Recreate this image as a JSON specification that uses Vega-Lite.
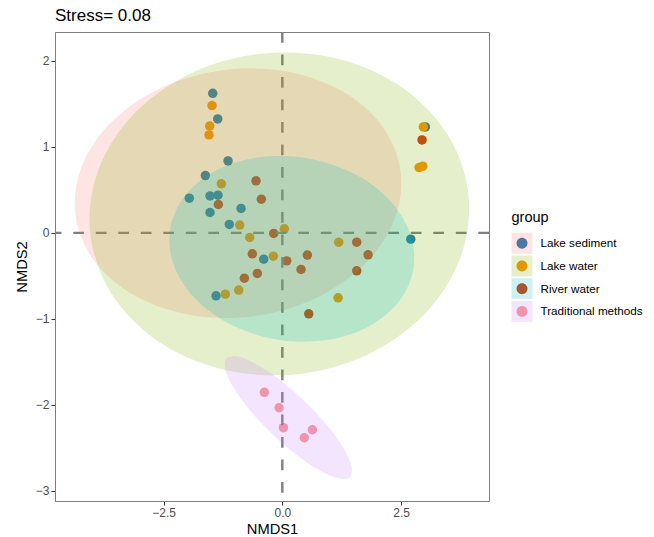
{
  "$schema": "https://vega.github.io/schema/vega-lite/v6.json",
  "width": 434,
  "height": 469,
  "autosize": {"type": "none"},
  "padding": {"left": 55, "top": 32, "right": 165, "bottom": 36},
  "background": "white",
  "title": {"text": "Stress= 0.08", "anchor": "start", "frame": "group", "font": "Liberation Sans", "fontSize": 17, "fontWeight": "normal", "color": "black", "offset": 6},
  "config": {
    "font": "Liberation Sans",
    "view": {"stroke": "#7F7F7F", "strokeWidth": 1},
    "axis": {"grid": false, "domainColor": "#7F7F7F", "domainWidth": 1, "tickColor": "#333333", "tickSize": 4, "labelFont": "Liberation Sans", "labelFontSize": 12, "labelColor": "#4D4D4D", "labelPadding": 2, "titleFont": "Liberation Sans", "titleFontSize": 14.7, "titleFontWeight": "normal", "titleColor": "black"},
    "legend": {"labelFont": "Liberation Sans", "titleFont": "Liberation Sans"}
  },
  "datasets": {
    "points": [
      {"group": "Lake sediment", "NMDS1": -1.465, "NMDS2": 1.624},
      {"group": "Lake sediment", "NMDS1": -1.36, "NMDS2": 1.326},
      {"group": "Lake sediment", "NMDS1": -1.143, "NMDS2": 0.837},
      {"group": "Lake sediment", "NMDS1": -1.62, "NMDS2": 0.667},
      {"group": "Lake sediment", "NMDS1": -1.958, "NMDS2": 0.403},
      {"group": "Lake sediment", "NMDS1": -1.522, "NMDS2": 0.43},
      {"group": "Lake sediment", "NMDS1": -1.354, "NMDS2": 0.438},
      {"group": "Lake sediment", "NMDS1": -1.522, "NMDS2": 0.237},
      {"group": "Lake sediment", "NMDS1": -0.869, "NMDS2": 0.284},
      {"group": "Lake sediment", "NMDS1": -1.116, "NMDS2": 0.098},
      {"group": "Lake sediment", "NMDS1": -0.392, "NMDS2": -0.306},
      {"group": "Lake sediment", "NMDS1": -1.396, "NMDS2": -0.733},
      {"group": "Lake sediment", "NMDS1": 2.703, "NMDS2": -0.073},
      {"group": "Lake sediment", "NMDS1": 3.01, "NMDS2": 1.233},
      {"group": "Lake water", "NMDS1": -1.48, "NMDS2": 1.481},
      {"group": "Lake water", "NMDS1": -1.529, "NMDS2": 1.244},
      {"group": "Lake water", "NMDS1": -1.543, "NMDS2": 1.14},
      {"group": "Lake water", "NMDS1": -1.284, "NMDS2": 0.57},
      {"group": "Lake water", "NMDS1": -0.897, "NMDS2": 0.09},
      {"group": "Lake water", "NMDS1": -0.686, "NMDS2": -0.054},
      {"group": "Lake water", "NMDS1": -0.189, "NMDS2": -0.271},
      {"group": "Lake water", "NMDS1": 0.042, "NMDS2": 0.047},
      {"group": "Lake water", "NMDS1": -1.2, "NMDS2": -0.713},
      {"group": "Lake water", "NMDS1": -0.918, "NMDS2": -0.666},
      {"group": "Lake water", "NMDS1": 1.187, "NMDS2": -0.108},
      {"group": "Lake water", "NMDS1": 1.173, "NMDS2": -0.756},
      {"group": "Lake water", "NMDS1": 2.968, "NMDS2": 1.233},
      {"group": "Lake water", "NMDS1": 2.878, "NMDS2": 0.76},
      {"group": "Lake water", "NMDS1": 2.956, "NMDS2": 0.776},
      {"group": "River water", "NMDS1": -0.554, "NMDS2": 0.605},
      {"group": "River water", "NMDS1": -0.442, "NMDS2": 0.392},
      {"group": "River water", "NMDS1": -1.347, "NMDS2": 0.33},
      {"group": "River water", "NMDS1": -0.181, "NMDS2": -0.007},
      {"group": "River water", "NMDS1": -0.632, "NMDS2": -0.244},
      {"group": "River water", "NMDS1": 0.093, "NMDS2": -0.326},
      {"group": "River water", "NMDS1": 0.526, "NMDS2": -0.259},
      {"group": "River water", "NMDS1": 1.566, "NMDS2": -0.108},
      {"group": "River water", "NMDS1": 1.804, "NMDS2": -0.256},
      {"group": "River water", "NMDS1": 0.394, "NMDS2": -0.426},
      {"group": "River water", "NMDS1": 1.566, "NMDS2": -0.442},
      {"group": "River water", "NMDS1": -0.526, "NMDS2": -0.472},
      {"group": "River water", "NMDS1": -0.8, "NMDS2": -0.527},
      {"group": "River water", "NMDS1": 0.556, "NMDS2": -0.942},
      {"group": "River water", "NMDS1": 2.941, "NMDS2": 1.081},
      {"group": "Traditional methods", "NMDS1": -0.379, "NMDS2": -1.856},
      {"group": "Traditional methods", "NMDS1": -0.069, "NMDS2": -2.035},
      {"group": "Traditional methods", "NMDS1": 0.023, "NMDS2": -2.267},
      {"group": "Traditional methods", "NMDS1": 0.463, "NMDS2": -2.384},
      {"group": "Traditional methods", "NMDS1": 0.632, "NMDS2": -2.291}
    ],
    "ellipses": [
      {"group": "Lake sediment", "i": 1, "NMDS1": 2.486, "NMDS2": 0.727},
      {"group": "Lake sediment", "i": 2, "NMDS1": 2.364, "NMDS2": 0.16},
      {"group": "Lake sediment", "i": 3, "NMDS1": 1.741, "NMDS2": -0.36},
      {"group": "Lake sediment", "i": 4, "NMDS1": 0.712, "NMDS2": -0.757},
      {"group": "Lake sediment", "i": 5, "NMDS1": -0.568, "NMDS2": -0.966},
      {"group": "Lake sediment", "i": 6, "NMDS1": -1.905, "NMDS2": -0.959},
      {"group": "Lake sediment", "i": 7, "NMDS1": -3.093, "NMDS2": -0.735},
      {"group": "Lake sediment", "i": 8, "NMDS1": -3.952, "NMDS2": -0.33},
      {"group": "Lake sediment", "i": 9, "NMDS1": -4.352, "NMDS2": 0.197},
      {"group": "Lake sediment", "i": 10, "NMDS1": -4.229, "NMDS2": 0.763},
      {"group": "Lake sediment", "i": 11, "NMDS1": -3.606, "NMDS2": 1.284},
      {"group": "Lake sediment", "i": 12, "NMDS1": -2.577, "NMDS2": 1.68},
      {"group": "Lake sediment", "i": 13, "NMDS1": -1.297, "NMDS2": 1.89},
      {"group": "Lake sediment", "i": 14, "NMDS1": 0.04, "NMDS2": 1.883},
      {"group": "Lake sediment", "i": 15, "NMDS1": 1.227, "NMDS2": 1.658},
      {"group": "Lake sediment", "i": 16, "NMDS1": 2.086, "NMDS2": 1.253},
      {"group": "Lake water", "i": 1, "NMDS1": 3.92, "NMDS2": 0.429},
      {"group": "Lake water", "i": 2, "NMDS1": 3.739, "NMDS2": -0.301},
      {"group": "Lake water", "i": 3, "NMDS1": 2.979, "NMDS2": -0.953},
      {"group": "Lake water", "i": 4, "NMDS1": 1.756, "NMDS2": -1.426},
      {"group": "Lake water", "i": 5, "NMDS1": 0.257, "NMDS2": -1.647},
      {"group": "Lake water", "i": 6, "NMDS1": -1.293, "NMDS2": -1.584},
      {"group": "Lake water", "i": 7, "NMDS1": -2.655, "NMDS2": -1.247},
      {"group": "Lake water", "i": 8, "NMDS1": -3.621, "NMDS2": -0.686},
      {"group": "Lake water", "i": 9, "NMDS1": -4.046, "NMDS2": 0.013},
      {"group": "Lake water", "i": 10, "NMDS1": -3.865, "NMDS2": 0.743},
      {"group": "Lake water", "i": 11, "NMDS1": -3.105, "NMDS2": 1.395},
      {"group": "Lake water", "i": 12, "NMDS1": -1.882, "NMDS2": 1.867},
      {"group": "Lake water", "i": 13, "NMDS1": -0.383, "NMDS2": 2.088},
      {"group": "Lake water", "i": 14, "NMDS1": 1.166, "NMDS2": 2.026},
      {"group": "Lake water", "i": 15, "NMDS1": 2.528, "NMDS2": 1.688},
      {"group": "Lake water", "i": 16, "NMDS1": 3.495, "NMDS2": 1.128},
      {"group": "River water", "i": 1, "NMDS1": 2.758, "NMDS2": -0.423},
      {"group": "River water", "i": 2, "NMDS1": 2.44, "NMDS2": -0.808},
      {"group": "River water", "i": 3, "NMDS1": 1.781, "NMDS2": -1.1},
      {"group": "River water", "i": 4, "NMDS1": 0.882, "NMDS2": -1.251},
      {"group": "River water", "i": 5, "NMDS1": -0.122, "NMDS2": -1.241},
      {"group": "River water", "i": 6, "NMDS1": -1.078, "NMDS2": -1.07},
      {"group": "River water", "i": 7, "NMDS1": -1.838, "NMDS2": -0.765},
      {"group": "River water", "i": 8, "NMDS1": -2.288, "NMDS2": -0.371},
      {"group": "River water", "i": 9, "NMDS1": -2.362, "NMDS2": 0.05},
      {"group": "River water", "i": 10, "NMDS1": -2.044, "NMDS2": 0.436},
      {"group": "River water", "i": 11, "NMDS1": -1.385, "NMDS2": 0.727},
      {"group": "River water", "i": 12, "NMDS1": -0.486, "NMDS2": 0.879},
      {"group": "River water", "i": 13, "NMDS1": 0.518, "NMDS2": 0.869},
      {"group": "River water", "i": 14, "NMDS1": 1.474, "NMDS2": 0.698},
      {"group": "River water", "i": 15, "NMDS1": 2.234, "NMDS2": 0.393},
      {"group": "River water", "i": 16, "NMDS1": 2.684, "NMDS2": -0.001},
      {"group": "Traditional methods", "i": 1, "NMDS1": 1.425, "NMDS2": -2.837},
      {"group": "Traditional methods", "i": 2, "NMDS1": 1.198, "NMDS2": -2.858},
      {"group": "Traditional methods", "i": 3, "NMDS1": 0.808, "NMDS2": -2.772},
      {"group": "Traditional methods", "i": 4, "NMDS1": 0.314, "NMDS2": -2.591},
      {"group": "Traditional methods", "i": 5, "NMDS1": -0.208, "NMDS2": -2.342},
      {"group": "Traditional methods", "i": 6, "NMDS1": -0.68, "NMDS2": -2.064},
      {"group": "Traditional methods", "i": 7, "NMDS1": -1.029, "NMDS2": -1.799},
      {"group": "Traditional methods", "i": 8, "NMDS1": -1.202, "NMDS2": -1.587},
      {"group": "Traditional methods", "i": 9, "NMDS1": -1.173, "NMDS2": -1.46},
      {"group": "Traditional methods", "i": 10, "NMDS1": -0.945, "NMDS2": -1.44},
      {"group": "Traditional methods", "i": 11, "NMDS1": -0.556, "NMDS2": -1.526},
      {"group": "Traditional methods", "i": 12, "NMDS1": -0.061, "NMDS2": -1.707},
      {"group": "Traditional methods", "i": 13, "NMDS1": 0.461, "NMDS2": -1.956},
      {"group": "Traditional methods", "i": 14, "NMDS1": 0.933, "NMDS2": -2.234},
      {"group": "Traditional methods", "i": 15, "NMDS1": 1.282, "NMDS2": -2.499},
      {"group": "Traditional methods", "i": 16, "NMDS1": 1.455, "NMDS2": -2.71}
    ],
    "hline": [{"NMDS2": 0}],
    "vline": [{"NMDS1": 0}]
  },
  "layer": [
    {
      "data": {"name": "points"},
      "mark": {"type": "point", "filled": true, "opacity": 1, "size": 90, "strokeWidth": 0},
      "encoding": {
        "x": {"field": "NMDS1", "type": "quantitative", "scale": {"domain": [-4.785, 4.35], "nice": false, "zero": false}, "axis": {"title": "NMDS1", "values": [-2.5, 0, 2.5], "format": ".1f", "titlePadding": 3}},
        "y": {"field": "NMDS2", "type": "quantitative", "scale": {"domain": [-3.12, 2.337], "nice": false, "zero": false}, "axis": {"title": "NMDS2", "values": [-3, -2, -1, 0, 1, 2], "format": "d", "titlePadding": 6}},
        "color": {
          "field": "group", "type": "nominal",
          "scale": {"range": ["#1F78B4", "#F99300", "#D23A0C", "#FB9A99"]},
          "legend": {"orient": "none", "legendX": 456.5, "legendY": 179.3, "title": "group", "titleFontSize": 14.5, "titleFontWeight": "normal", "titleColor": "black", "titlePadding": 7, "symbolType": "M -1,-1 M 1,1 M -0.52,0 A 0.52,0.52 0 1,0 0.52,0 A 0.52,0.52 0 1,0 -0.52,0 Z", "symbolSize": 441, "symbolStrokeWidth": 0, "symbolOpacity": 1, "labelFontSize": 11.7, "labelColor": "black", "labelOffset": 8, "rowPadding": 1.7}
        }
      }
    },
    {
      "data": {"name": "hline"},
      "mark": {"type": "rule", "color": "#7F7F7F", "strokeWidth": 2.4, "strokeDash": [10.7, 11.8]},
      "encoding": {"y": {"field": "NMDS2", "type": "quantitative"}}
    },
    {
      "data": {"name": "vline"},
      "mark": {"type": "rule", "color": "#7F7F7F", "strokeWidth": 2.4, "strokeDash": [10.7, 11.8]},
      "encoding": {"x": {"field": "NMDS1", "type": "quantitative"}}
    },
    {
      "data": {"name": "ellipses"},
      "mark": {"type": "line", "filled": true, "interpolate": "cardinal-closed", "fillOpacity": 0.2, "strokeWidth": 0},
      "encoding": {
        "x": {"field": "NMDS1", "type": "quantitative"},
        "y": {"field": "NMDS2", "type": "quantitative"},
        "order": {"field": "i", "type": "quantitative"},
        "fill": {
          "field": "group", "type": "nominal",
          "scale": {"range": ["#F8766D", "#7CAE00", "#00BFC4", "#C77CFF"]},
          "legend": {"orient": "none", "legendX": 456.5, "legendY": 179.3, "title": " ", "titleFontSize": 14.5, "titleFontWeight": "normal", "titlePadding": 7, "symbolType": "square", "symbolSize": 441, "symbolStrokeWidth": 0, "symbolOpacity": 0.2, "labelFontSize": 11.7, "labelExpr": "''", "labelOffset": 8, "rowPadding": 1.7}
        }
      }
    }
  ]
}
